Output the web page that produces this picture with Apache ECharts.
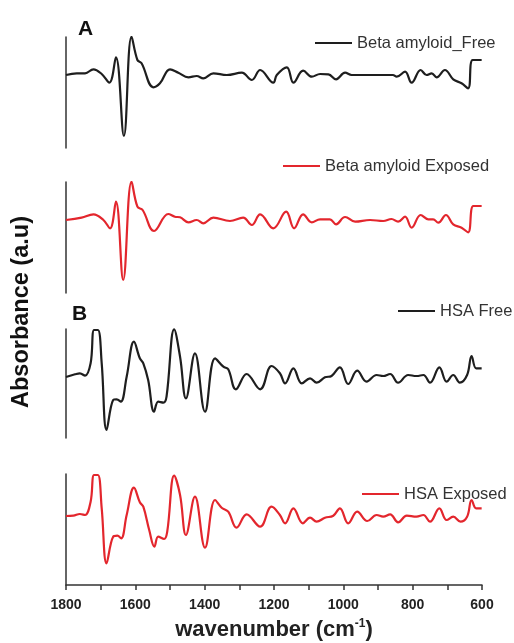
<!DOCTYPE html>
<html>
<head>
<meta charset="utf-8">
<script src="https://cdn.jsdelivr.net/npm/echarts@6/dist/echarts.min.js"></script>
<style>
html,body{margin:0;padding:0;background:#fff;}
#main{width:514px;height:643px;}
</style>
</head>
<body>
<div id="main"></div>
<script>
// x axis ticks (cm-1)
var xTicks = [1800, 1600, 1400, 1200, 1000, 800, 600];

// Beta amyloid, free
var betaFreeWn  = [1800,1769,1745,1721,1697,1675,1656,1633,1611,1594,1582,1548,1529,1500,1476,1447,1423,1404,1375,1336,1293,1264,1240,1202,1192,1163,1144,1116,1091,1067,1043,1021,995,976,857,846,822,803,777,760,745,731,707,683,659,640,627,601];
var betaFreeAbs = [0,1.7,1.7,5.7,1,-7.7,17.7,-61,38.3,15,11.7,-12.3,-8.3,5.7,2.3,-2.3,-1,-3.3,1.7,0,2.3,-5,5,-7.7,0,7.7,-7.7,4.3,-1.7,1,0.7,-4.3,2.3,0,0,-1.7,3.3,-7.7,5,0,1.7,-2.3,5,-4.3,-8.3,-13.3,15,15];

// Beta amyloid, exposed
var betaExpWn  = [1800,1755,1721,1692,1673,1656,1635,1611,1594,1579,1546,1505,1486,1471,1447,1423,1404,1375,1327,1289,1264,1240,1202,1165,1142,1116,1091,1067,1039,1021,995,966,923,885,861,842,822,803,777,755,741,726,704,683,659,640,625,601];
var betaExpAbs = [0,2.3,5.7,0,-8.3,18.3,-60,38.3,13.3,10,-11,6,3.3,2.7,-2.3,0,-3.3,2.3,-1,2.3,-5,5.7,-8.3,8.3,-8.3,5.7,-2.3,0.7,0.7,-4.3,3,-1.7,0,-1,1,-1.7,3.3,-7.7,5,0.7,0.7,-2.7,5,-4.3,-7.7,-12.3,14,14];

// HSA, free
var hsaFreeWn  = [1800,1774,1760,1745,1729,1719,1708,1697,1683,1664,1654,1642,1625,1604,1587,1577,1563,1546,1534,1519,1510,1488,1471,1454,1428,1399,1370,1346,1332,1310,1279,1240,1207,1183,1168,1144,1120,1096,1077,1053,1034,1010,986,960,933,904,885,865,842,813,789,769,750,723,702,683,664,643,630,617,601];
var hsaFreeAbs = [0,2.7,3.7,1.3,13.7,47,47,13.7,-53,-23,-22.3,-24.7,0.3,35.3,18.7,13.7,-3,-34.7,-24.7,-25.7,-19.7,47.7,20.3,-21.3,23.7,-34.7,18.7,10.3,7.7,-12.3,3,-12.3,11,3.7,-6.3,8.7,-6.3,-1.3,-5.7,-0.3,1,9.7,-7,6.3,-4.7,2,1,3,-5.7,2,1,2,-5.7,9.7,-4.7,2,-5.7,2,21,8.7,8.7];

// HSA, exposed
var hsaExpWn  = [1800,1779,1760,1745,1729,1719,1708,1697,1683,1664,1652,1641,1625,1604,1587,1577,1560,1545,1534,1517,1508,1488,1471,1454,1428,1399,1370,1351,1332,1308,1279,1240,1207,1183,1168,1144,1117,1096,1077,1053,1029,1010,986,960,931,904,885,865,842,817,789,769,750,723,702,683,662,643,630,617,601];
var hsaExpAbs = [0,0.3,2,1,14.3,41,41,7.7,-47.3,-20.7,-19.7,-22.3,1,28.3,13.7,9.3,-14,-30.7,-20.7,-23,-15.7,40.3,21,-19,19.3,-31.7,16,8.3,4.3,-11.7,1.7,-10.7,9.3,1,-7.3,7.7,-7.3,-1.7,-5.7,-1.7,0.3,7.7,-7.3,4.3,-5,1,-0.7,1.7,-6.3,0.3,-0.7,1,-5.7,7.7,-4,-0.7,-5.7,-0.7,16,7.7,7.7];

var seriesNames = ['Beta amyloid_Free', 'Beta amyloid Exposed', 'HSA Free', 'HSA Exposed'];

function pairs(wn, ab) {
  var out = [];
  for (var i = 0; i < wn.length; i++) out.push([wn[i], ab[i]]);
  return out;
}

var BLACK = '#1e1e1e';
var RED = '#e3262d';
var FONT = 'Liberation Sans, Arial, sans-serif';

var myChart = echarts.init(document.getElementById('main'), null, {renderer: 'canvas'});

// panels: top, height, y min, y max
var panels = [
  {top: 37,  height: 111, min: -73, max: 38},
  {top: 182, height: 111, min: -73, max: 38},
  {top: 329, height: 109, min: -61, max: 48},
  {top: 474, height: 111, min: -69, max: 42}
];

var grids = [], xAxes = [], yAxes = [];
panels.forEach(function (p, i) {
  grids.push({left: 66, right: 32, top: p.top, height: p.height});
  var last = (i === panels.length - 1);
  xAxes.push({
    gridIndex: i,
    type: 'value',
    min: 600,
    max: 1800,
    interval: 100,
    inverse: true,
    show: last,
    axisLine: {onZero: false, lineStyle: {color: '#333', width: 1.5}},
    axisTick: {show: true, length: 5, lineStyle: {color: '#333', width: 1.5}},
    splitLine: {show: false},
    axisLabel: {
      color: '#222', fontWeight: 'bold', fontSize: 14, fontFamily: FONT, margin: 13,
      formatter: function (v) { return xTicks.indexOf(v) >= 0 ? String(v) : ''; }
    },
    name: last ? '{a|wavenumber (cm}{s|-1}{a|)}' : '',
    nameLocation: 'middle',
    nameGap: 33,
    nameTextStyle: {
      rich: {
        a: {fontSize: 22, fontWeight: 'bold', color: '#222', fontFamily: FONT},
        s: {fontSize: 12, fontWeight: 'bold', color: '#222', fontFamily: FONT, padding: [0, 0, 12, 0]}
      }
    }
  });
  yAxes.push({
    gridIndex: i,
    type: 'value',
    min: p.min,
    max: p.max,
    axisLine: {show: true, onZero: false, lineStyle: {color: '#333', width: 1.5}},
    axisTick: {show: false},
    axisLabel: {show: false},
    splitLine: {show: false}
  });
});

var datasets = [
  pairs(betaFreeWn, betaFreeAbs),
  pairs(betaExpWn, betaExpAbs),
  pairs(hsaFreeWn, hsaFreeAbs),
  pairs(hsaExpWn, hsaExpAbs)
];
var colors = [BLACK, RED, BLACK, RED];

var series = datasets.map(function (d, i) {
  return {
    name: seriesNames[i],
    type: 'line',
    xAxisIndex: i,
    yAxisIndex: i,
    data: d,
    smooth: 0.4,
    symbol: 'none',
    color: colors[i],
    lineStyle: {color: colors[i], width: 2.2},
    silent: true
  };
});

var legendPos = [
  {left: 315, top: 34},
  {left: 283, top: 157},
  {left: 398, top: 302},
  {left: 362, top: 485}
];
var legends = legendPos.map(function (p, i) {
  return {
    data: [{name: seriesNames[i], icon: 'rect'}],
    left: p.left,
    top: p.top,
    padding: 0,
    itemWidth: 37,
    itemHeight: 2,
    selectedMode: false,
    textStyle: {fontSize: 16.5, color: '#333', fontFamily: FONT, lineHeight: 18}
  };
});

var option = {
  backgroundColor: '#fff',
  animation: false,
  grid: grids,
  xAxis: xAxes,
  yAxis: yAxes,
  legend: legends,
  series: series,
  graphic: [
    {type: 'text', left: 78, top: 19, style: {text: 'A', font: 'bold 21px ' + FONT, fill: '#111'}},
    {type: 'text', left: 72, top: 304, style: {text: 'B', font: 'bold 21px ' + FONT, fill: '#111'}},
    {
      type: 'text', x: 22, y: 312, rotation: Math.PI / 2,
      style: {text: 'Absorbance (a.u)', font: 'bold 23.5px ' + FONT, fill: '#111', align: 'center', verticalAlign: 'middle'}
    }
  ]
};

myChart.setOption(option);
window.onresize = myChart.resize;
</script>
</body>
</html>
